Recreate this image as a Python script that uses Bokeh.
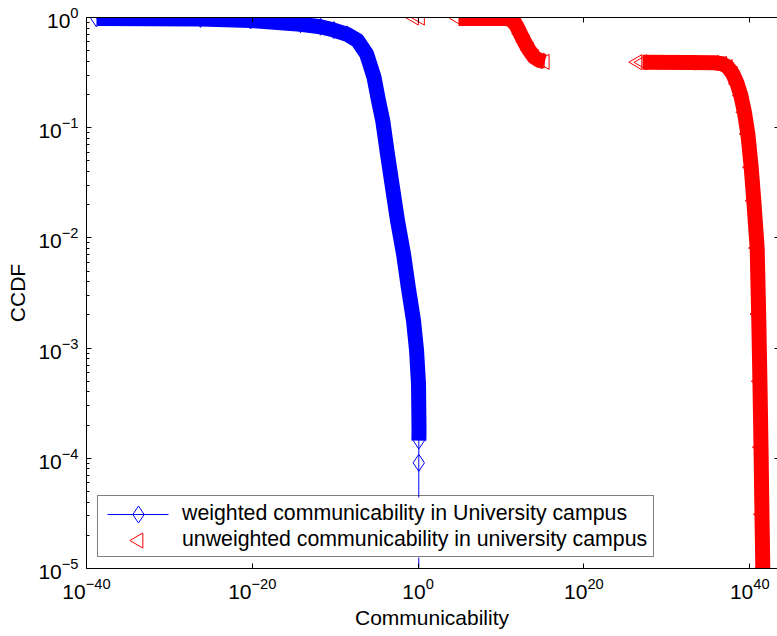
import math
from bokeh.plotting import figure
from bokeh.models import (Range1d, LogAxis, FixedTicker, Legend, LegendItem)
from bokeh.embed import file_html
from bokeh.resources import INLINE

# ---- data (CCDF of communicability) ----
# weighted communicability: dense part of the curve
blue_x = [1.6e-39, 5.6e-27, 6.0e-21, 6.5e-15, 1.7e-12, 6.8e-11, 2.8e-9, 4.9e-8,
          6.0e-7, 4.8e-6, 1.66e-5, 5.4e-5, 2.0e-4, 8.1e-4, 3.3e-3, 1.74e-2,
          6.6e-2, 0.28, 0.65, 1.12, 1.29, 1.23]
blue_y = [0.98, 0.968, 0.94, 0.869, 0.825, 0.769, 0.703, 0.618,
          0.468, 0.287, 0.176, 0.116, 0.0578, 0.0288, 0.0143, 0.00714,
          0.00355, 0.00177, 0.00095, 0.00047, 0.000178, 0.000145]
# weighted communicability: sparse tail
blue_tail_x = [1.2, 1.2]
blue_tail_y = [9.1e-5, 1e-6]

# unweighted communicability, three clusters
red_a_x = [0.32, 1.7]
red_a_y = [1.0, 0.998]
red_b_x = [7.4e4, 5.6e10, 2.2e11, 7.4e11, 2.2e12, 6.8e12, 2.3e13, 9.1e13,
           4.8e14, 1.9e15]
red_b_y = [0.979, 0.979, 0.94, 0.84, 0.71, 0.60, 0.51, 0.44,
           0.407, 0.396]
red_c_x = [2.9e26, 1.2e27, 7.2e32, 4.7e35, 4.8e36, 2.3e37, 9.1e37, 3.1e38,
           8.5e38, 2.3e39, 5.9e39, 1.5e40, 3.1e40, 7.9e40, 1.2e41, 1.7e41,
           2.3e41, 3.0e41, 3.8e41]
red_c_y = [0.393, 0.392, 0.39, 0.388, 0.38, 0.355, 0.308, 0.25,
           0.196, 0.138, 0.088, 0.0437, 0.0218, 0.0081, 0.00204, 0.0005,
           0.000126, 3.1e-5, 1.0e-5]

x_ticks = [1e-40, 1e-20, 1e0, 1e20, 1e40]
y_ticks = [1e-5, 1e-4, 1e-3, 1e-2, 1e-1, 1e0]
y_minor = [k * t for t in y_ticks[:-1] for k in range(2, 10)]

label_blue = "weighted communicability in University campus"
label_red = "unweighted communicability in university campus"
x_label = "Communicability"
y_label = "CCDF"

FONT = "Liberation Sans"
FS = "21px"
BLUE = "#0000ff"
RED = "#ff0000"

W, H = 777, 636
BL, BB, BT = 86, 68, 17
X0, X1 = 1e-40, 2.24e43
Y0, Y1 = 1e-5, 1e0

p = figure(width=W, height=H, output_backend="svg", toolbar_location=None,
           x_axis_type="log", y_axis_type="log",
           x_range=Range1d(X0, X1), y_range=Range1d(Y0, Y1),
           min_border_left=BL, min_border_right=0, min_border_top=BT,
           min_border_bottom=BB)
p.outline_line_color = None
p.grid.visible = False
p.background_fill_color = "white"
p.border_fill_color = "white"

xa = p.xaxis[0]
ya = p.yaxis[0]
xa.ticker = FixedTicker(ticks=x_ticks, minor_ticks=[])
ya.ticker = FixedTicker(ticks=y_ticks, minor_ticks=y_minor)
for ax in (xa, ya):
    ax.major_tick_in = 5
    ax.major_tick_out = 0
    ax.minor_tick_in = 3
    ax.minor_tick_out = 0
    ax.axis_line_color = "black"
    ax.axis_line_width = 1
    ax.major_tick_line_color = "black"
    ax.minor_tick_line_color = "black"
    ax.major_label_text_font = FONT
    ax.major_label_text_font_size = FS
    ax.major_label_text_color = "black"
    ax.axis_label_text_font = FONT
    ax.axis_label_text_font_size = FS
    ax.axis_label_text_font_style = "normal"
    ax.axis_label_text_color = "black"
xa.axis_label = x_label
ya.axis_label = y_label
xa.major_label_standoff = 9
xa.axis_label_standoff = 4
ya.major_label_standoff = 8
ya.axis_label_standoff = 6

top = LogAxis(ticker=FixedTicker(ticks=x_ticks, minor_ticks=[]),
              major_tick_in=5, major_tick_out=0, minor_tick_in=0, minor_tick_out=0,
              major_label_text_font_size="1px", major_label_text_alpha=0,
              major_label_standoff=0,
              axis_line_color="black", axis_line_width=1)
p.add_layout(top, "above")
right = LogAxis(ticker=FixedTicker(ticks=y_ticks, minor_ticks=[]),
                major_tick_in=3, major_tick_out=0, minor_tick_in=0, minor_tick_out=0,
                major_label_text_font_size="1px", major_label_text_alpha=0,
                major_label_standoff=0,
                axis_line_color=None)
p.add_layout(right, "right")

# dense bands (overlapping markers)
p.line(blue_x, blue_y, line_color=BLUE, line_width=15, line_join="round", line_cap="butt")
p.line(red_b_x, red_b_y, line_color=RED, line_width=15, line_join="round", line_cap="butt")
p.line(red_c_x[1:], red_c_y[1:], line_color=RED, line_width=15, line_join="round", line_cap="butt")

# series lines & markers
bx = blue_x + blue_tail_x
by = blue_y + blue_tail_y
p.line(bx, by, line_color=BLUE, line_width=1)
p.scatter(bx, by, marker="diamond", size=17, fill_color=None,
          line_color=BLUE, line_width=1)
rx = red_a_x + red_b_x + red_c_x
ry = red_a_y + red_b_y + red_c_y
p.scatter(rx, ry, marker="triangle", size=15, angle=math.pi / 2,
          fill_color=None, line_color=RED, line_width=1)

# ---- legend ----
LX, LY, PAD, GW, GH, STANDOFF, LW = 11, 11, 4, 70, 26, 10, 467
LEG_W = 2 * PAD + GW + STANDOFF + LW
LEG_H = 2 * PAD + 2 * GH

# convert frame-pixel offsets of the legend into the plot's log coordinates
FW, FH = W - BL, H - BB - BT
def key_x(px):
    a, b = math.log10(X0), math.log10(X1)
    return 10 ** (a + px / FW * (b - a))
def key_y(py):
    a, b = math.log10(Y0), math.log10(Y1)
    return 10 ** (a + py / FH * (b - a))

# opaque legend background, then the legend keys
p.quad(left=[key_x(LX)], right=[key_x(LX + LEG_W)], bottom=[key_y(LY)],
       top=[key_y(LY + LEG_H)], fill_color="white", line_color=None)
kx0, kx1 = key_x(LX + PAD + 6), key_x(LX + PAD + GW - 3)
kxc = key_x(LX + PAD + 37)
row_red = key_y(LY + PAD + GH / 2)
row_blue = key_y(LY + PAD + GH + GH / 2)
p.line([kx0, kx1], [row_blue, row_blue], line_color=BLUE, line_width=1)
p.scatter([kxc], [row_blue], marker="diamond", size=17, fill_color=None,
          line_color=BLUE, line_width=1)
p.scatter([kxc], [row_red], marker="triangle", size=15, angle=math.pi / 2,
          fill_color=None, line_color=RED, line_width=1)

dummy = p.scatter([], [], marker="circle", size=1, fill_alpha=0, line_alpha=0)
legend = Legend(items=[LegendItem(label=label_blue, renderers=[dummy]),
                       LegendItem(label=label_red, renderers=[dummy])],
                location=(LX, LY), margin=0, padding=PAD, spacing=0,
                glyph_width=GW, glyph_height=GH, label_standoff=STANDOFF,
                label_width=LW,
                label_text_font=FONT, label_text_font_size="21.3px",
                label_text_color="black",
                border_line_color="black", border_line_width=1,
                background_fill_alpha=0.0)
p.add_layout(legend, "center")

open("out.html", "w").write(file_html(p, INLINE))
